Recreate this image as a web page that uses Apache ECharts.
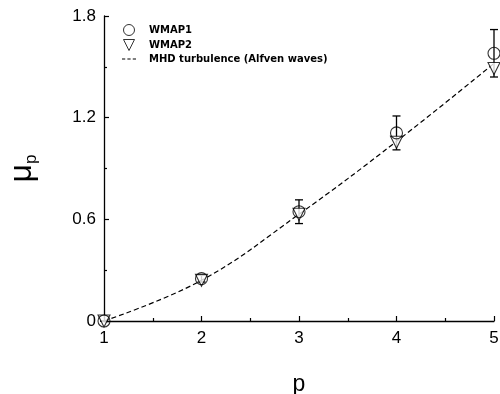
<!DOCTYPE html>
<html>
<head>
<meta charset="utf-8">
<script src="https://cdn.jsdelivr.net/npm/echarts@6/dist/echarts.min.js"></script>
<style>
  html, body { margin: 0; padding: 0; background: #fff; }
  #chart { width: 500px; height: 394px; }
</style>
</head>
<body>
<div id="chart"></div>
<script>
const pValues = [1, 2, 3, 4, 5];
const wmap1 = [0, 0.25, 0.645, 1.11, 1.58];
const wmap1Err = [0, 0.02, 0.07, 0.1, 0.14];
const wmap2 = [0, 0.24, 0.63, 1.055, 1.49];
const mhdCurve = [0, 0.24, 0.63, 1.06, 1.52];
const yTicks = [0, 0.6, 1.2, 1.8];

const font = 'Liberation Sans, Arial, sans-serif';
const legendFont = 'DejaVu Sans, Liberation Sans, sans-serif';

const chart = echarts.init(document.getElementById('chart'));

const errData = pValues.map((p, i) => [p, wmap1[i] - wmap1Err[i], wmap1[i] + wmap1Err[i]]);

chart.setOption({
  animation: false,
  backgroundColor: '#fff',
  grid: { left: 104, right: 6, top: 16, bottom: 73, containLabel: false, outerBoundsMode: 'none' },
  legend: {
    orient: 'vertical',
    left: 117,
    top: 19,
    itemGap: 3,
    itemWidth: 14,
    itemHeight: 11,
    textStyle: { fontFamily: legendFont, fontSize: 10, fontWeight: 'bold', color: '#000', padding: [0, 0, 0, 8] },
    data: [
      { name: 'WMAP1', icon: 'circle', itemStyle: { color: 'transparent', borderColor: '#000', borderWidth: 1 } },
      { name: 'WMAP2', icon: 'path://M0,0 L10,0 L5,10 Z', itemStyle: { color: 'transparent', borderColor: '#000', borderWidth: 1 } },
      { name: 'MHD turbulence (Alfven waves)', icon: 'path://M0,0h3v1h-3z M5,0h3v1h-3z M10,0h3v1h-3z', itemStyle: { color: '#000' } }
    ]
  },
  xAxis: {
    type: 'value',
    min: 1, max: 5, interval: 1,
    name: 'p',
    nameLocation: 'middle',
    nameGap: 52,
    nameTextStyle: { fontFamily: font, fontSize: 23, color: '#000' },
    axisLine: { lineStyle: { color: '#000', width: 1.3 } },
    axisTick: { inside: true, length: 5, lineStyle: { color: '#000', width: 1.2 } },
    minorTick: { show: true, splitNumber: 2, length: 3, lineStyle: { color: '#000', width: 1.2 } },
    axisLabel: { fontFamily: font, fontSize: 17, color: '#000', margin: 9 },
    splitLine: { show: false }
  },
  yAxis: {
    type: 'value',
    min: 0, max: 1.8, interval: 0.6,
    name: '{a|μ}{b|p}',
    nameLocation: 'middle',
    nameRotate: 90,
    nameGap: 64,
    nameTextStyle: {
      rich: {
        a: { fontFamily: font, fontSize: 32, color: '#000' },
        b: { fontFamily: font, fontSize: 17, color: '#000', verticalAlign: 'bottom', padding: [18, 0, 0, 0] }
      }
    },
    axisLine: { show: true, lineStyle: { color: '#000', width: 1.3 } },
    axisTick: { show: true, inside: true, length: 5, lineStyle: { color: '#000', width: 1.2 } },
    minorTick: { show: true, splitNumber: 2, length: 3, lineStyle: { color: '#000', width: 1.2 } },
    axisLabel: {
      fontFamily: font, fontSize: 17, color: '#000', margin: 8,
      formatter: v => (yTicks.some(t => Math.abs(t - v) < 1e-6) ? String(+v.toFixed(1)) : '')
    },
    splitLine: { show: false }
  },
  series: [
    {
      name: 'MHD turbulence (Alfven waves)',
      type: 'line',
      smooth: 0.4,
      showSymbol: false,
      data: pValues.map((p, i) => [p, mhdCurve[i]]),
      lineStyle: { color: '#000', width: 1.2, type: [5, 3] },
      z: 1
    },
    {
      name: 'WMAP1 error',
      type: 'custom',
      data: errData,
      z: 2,
      renderItem: (params, api) => {
        const x = api.value(0);
        const lo = api.coord([x, api.value(1)]);
        const hi = api.coord([x, api.value(2)]);
        const w = 4;
        const style = { stroke: '#000', lineWidth: 1.3 };
        return {
          type: 'group',
          children: [
            { type: 'line', shape: { x1: lo[0], y1: lo[1], x2: hi[0], y2: hi[1] }, style },
            { type: 'line', shape: { x1: hi[0] - w, y1: hi[1], x2: hi[0] + w, y2: hi[1] }, style },
            { type: 'line', shape: { x1: lo[0] - w, y1: lo[1], x2: lo[0] + w, y2: lo[1] }, style }
          ]
        };
      }
    },
    {
      name: 'WMAP2',
      type: 'scatter',
      symbol: 'path://M0,0 L10,0 L5,10 Z',
      symbolSize: [12, 12],
      data: pValues.map((p, i) => [p, wmap2[i]]),
      itemStyle: { color: '#fff', borderColor: '#000', borderWidth: 1.1 },
      z: 3
    },
    {
      name: 'WMAP1',
      type: 'scatter',
      symbol: 'circle',
      symbolSize: 12,
      data: pValues.map((p, i) => [p, wmap1[i]]),
      itemStyle: { color: 'transparent', borderColor: '#000', borderWidth: 1.1 },
      z: 4
    }
  ]
});
</script>
</body>
</html>
